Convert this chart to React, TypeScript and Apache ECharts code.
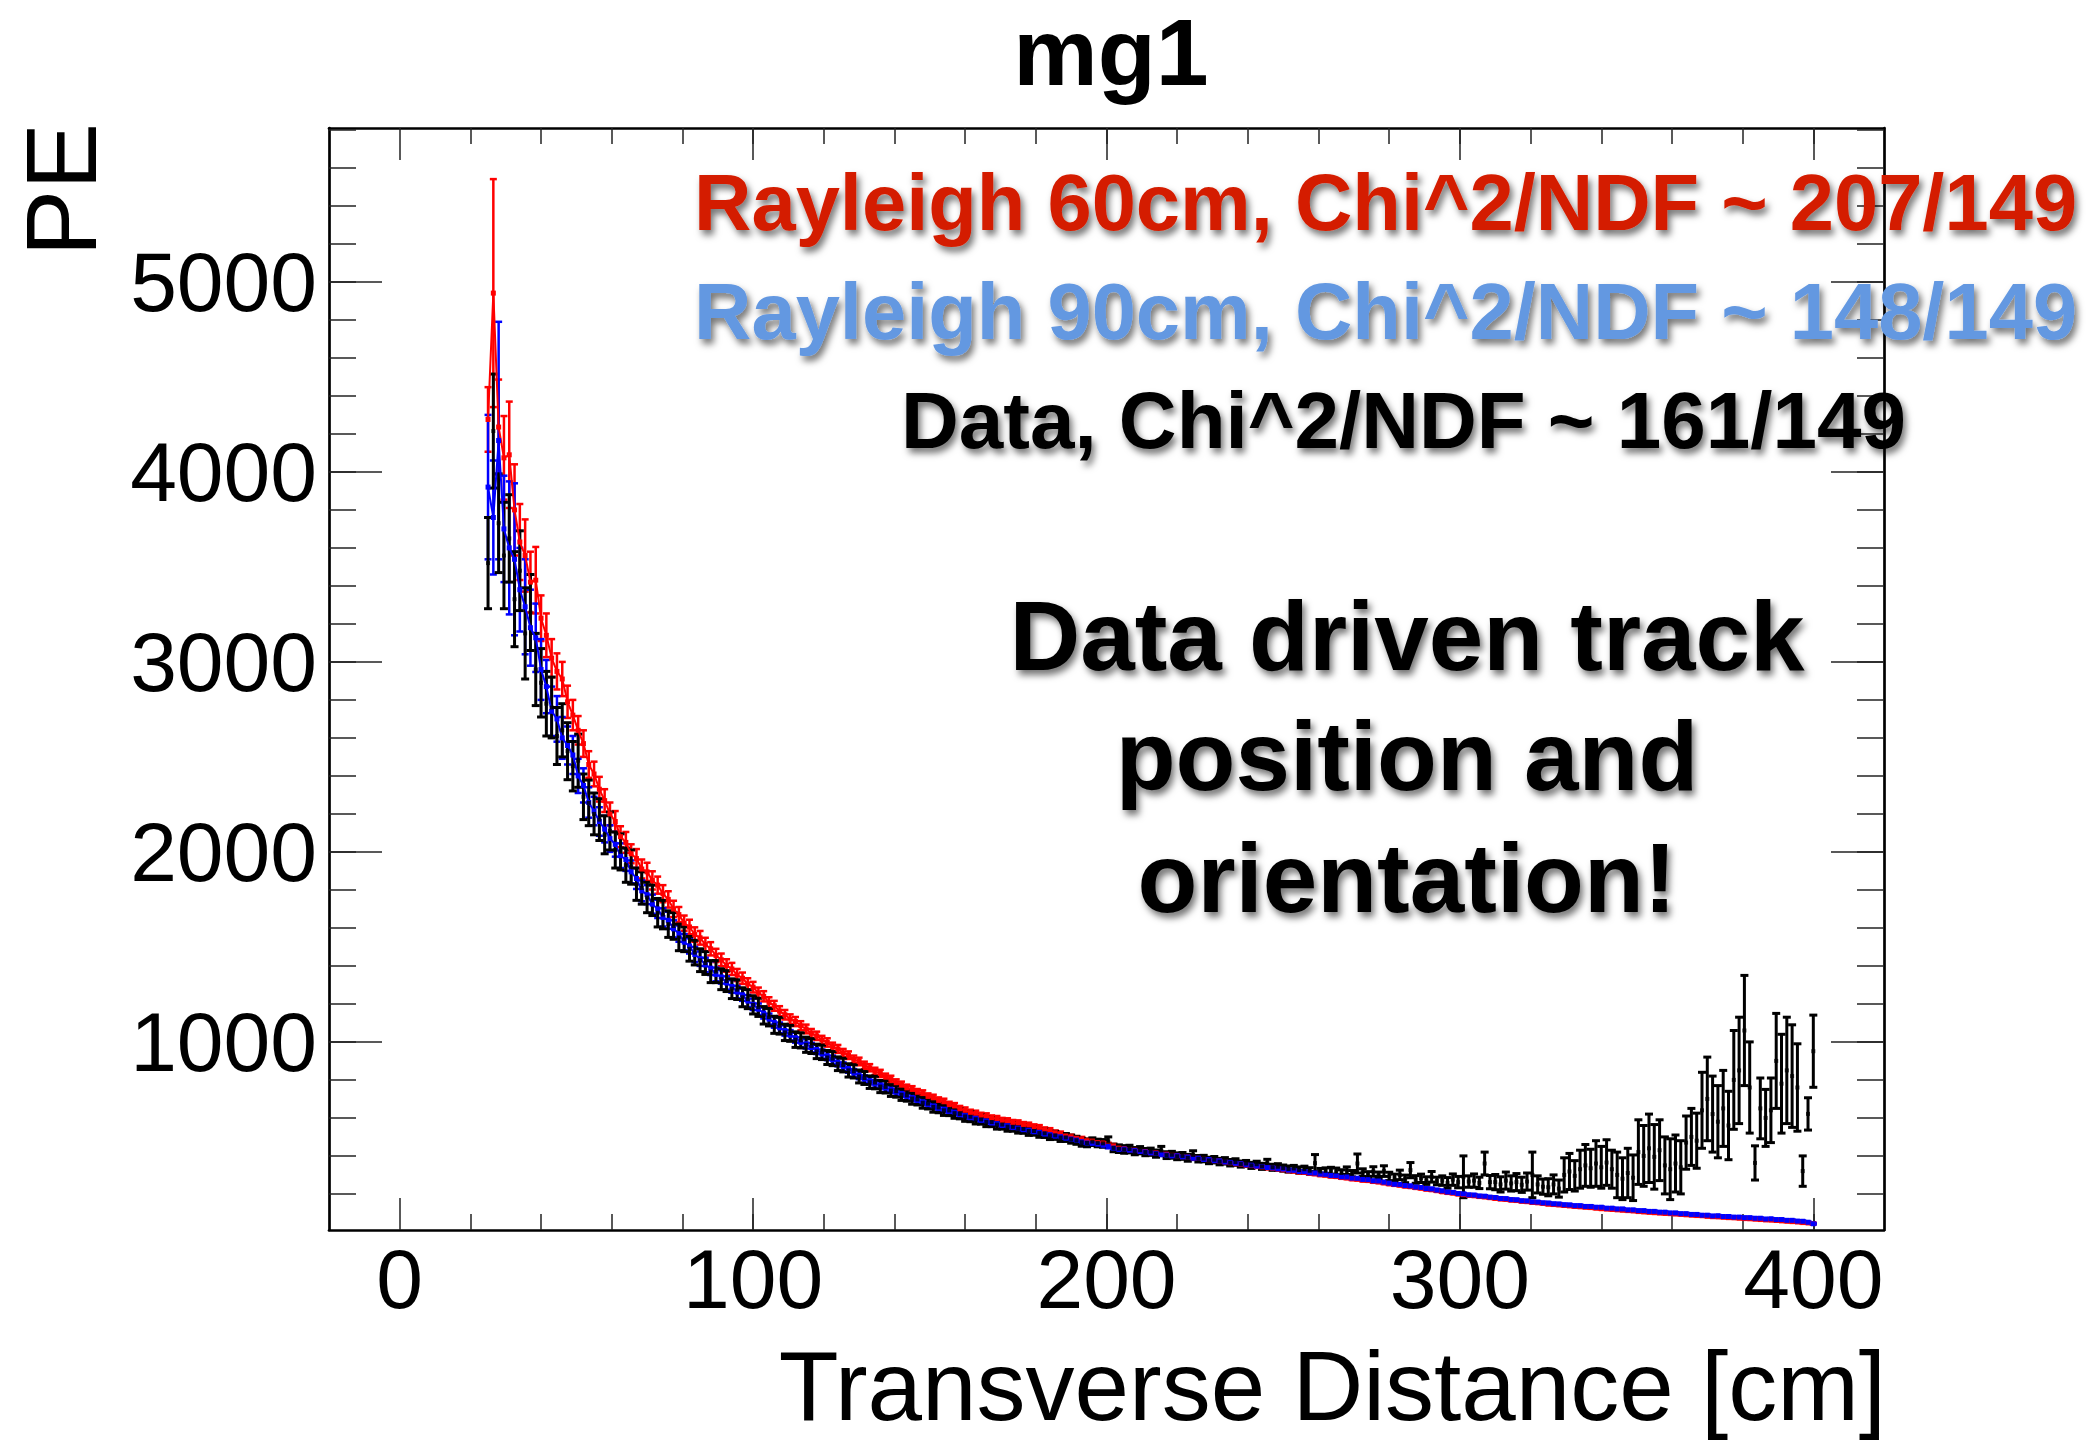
import React, { useEffect, useRef } from 'react';
import * as echarts from 'echarts';

// ---------------- data ----------------
const TITLE = 'mg1';
const X_TITLE = 'Transverse Distance [cm]';
const Y_TITLE = 'PE';
const LEGEND_TEXTS = [
  'Rayleigh 60cm, Chi^2/NDF ~ 207/149',
  'Rayleigh 90cm, Chi^2/NDF ~ 148/149',
  'Data, Chi^2/NDF ~ 161/149',
];
const NOTE_LINES = ['Data driven track', 'position and', 'orientation!'];

const X_MAJOR = [0, 100, 200, 300, 400];
const X_MINOR = [20, 40, 60, 80, 100, 120, 140, 160, 180, 200, 220, 240, 260, 280, 300, 320, 340, 360, 380, 400];
const Y_MAJOR = [1000, 2000, 3000, 4000, 5000];
const Y_MINOR = [200, 400, 600, 800, 1000, 1200, 1400, 1600, 1800, 2000, 2200, 2400, 2600, 2800, 3000, 3200, 3400, 3600, 3800, 4000, 4200, 4400, 4600, 4800, 5000, 5200, 5400, 5600, 5800];

const X = [
  25, 26.5, 28, 29.5, 31, 32.5, 34, 35.5, 37, 38.5,
  40, 41.5, 43, 44.5, 46, 47.5, 49, 50.5, 52, 53.5,
  55, 56.5, 58, 59.5, 61, 62.5, 64, 65.5, 67, 68.5,
  70, 71.5, 73, 74.5, 76, 77.5, 79, 80.5, 82, 83.5,
  85, 86.5, 88, 89.5, 91, 92.5, 94, 95.5, 97, 98.5,
  100, 101.5, 103, 104.5, 106, 107.5, 109, 110.5, 112, 113.5,
  115, 116.5, 118, 119.5, 121, 122.5, 124, 125.5, 127, 128.5,
  130, 131.5, 133, 134.5, 136, 137.5, 139, 140.5, 142, 143.5,
  145, 146.5, 148, 149.5, 151, 152.5, 154, 155.5, 157, 158.5,
  160, 161.5, 163, 164.5, 166, 167.5, 169, 170.5, 172, 173.5,
  175, 176.5, 178, 179.5, 181, 182.5, 184, 185.5, 187, 188.5,
  190, 191.5, 193, 194.5, 196, 197.5, 199, 200.5, 202, 203.5,
  205, 206.5, 208, 209.5, 211, 212.5, 214, 215.5, 217, 218.5,
  220, 221.5, 223, 224.5, 226, 227.5, 229, 230.5, 232, 233.5,
  235, 236.5, 238, 239.5, 241, 242.5, 244, 245.5, 247, 248.5,
  250, 251.5, 253, 254.5, 256, 257.5, 259, 260.5, 262, 263.5,
  265, 266.5, 268, 269.5, 271, 272.5, 274, 275.5, 277, 278.5,
  280, 281.5, 283, 284.5, 286, 287.5, 289, 290.5, 292, 293.5,
  295, 296.5, 298, 299.5, 301, 302.5, 304, 305.5, 307, 308.5,
  310, 311.5, 313, 314.5, 316, 317.5, 319, 320.5, 322, 323.5,
  325, 326.5, 328, 329.5, 331, 332.5, 334, 335.5, 337, 338.5,
  340, 341.5, 343, 344.5, 346, 347.5, 349, 350.5, 352, 353.5,
  355, 356.5, 358, 359.5, 361, 362.5, 364, 365.5, 367, 368.5,
  370, 371.5, 373, 374.5, 376, 377.5, 379, 380.5, 382, 383.5,
  385, 386.5, 388, 389.5, 391, 392.5, 394, 395.5, 397, 398.5,
  400,
];

// Rayleigh 60cm (red)
const R60 = [
  4276, 4941, 4236, 4074, 4090, 3800, 3631, 3560, 3420, 3430,
  3230, 3140, 3020, 2950, 2910, 2790, 2720, 2640, 2570, 2460,
  2410, 2330, 2270, 2200, 2160, 2080, 2050, 1990, 1965, 1910,
  1895, 1850, 1825, 1780, 1750, 1700, 1670, 1625, 1605, 1565,
  1548, 1512, 1490, 1455, 1432, 1402, 1384, 1352, 1335, 1305,
  1288, 1258, 1240, 1208, 1190, 1162, 1143, 1120, 1107, 1085,
  1068, 1045, 1032, 1010, 997, 975, 963, 942, 930, 908,
  897, 876, 864, 845, 834, 815, 804, 785, 774, 758,
  750, 735, 728, 713, 706, 692, 685, 670, 663, 648,
  640, 628, 624, 613, 610, 599, 597, 587, 585, 576,
  574, 565, 563, 554, 550, 538, 534, 522, 517, 505,
  501, 493, 489, 480, 478, 470, 468, 459, 453, 441,
  438, 432, 430, 424, 423, 417, 416, 410, 409, 403,
  401, 396, 394, 389, 387, 382, 380, 375, 373, 368,
  364, 359, 357, 351, 349, 344, 342, 337, 335, 330,
  327, 322, 320, 315, 313, 308, 306, 301, 299, 294,
  291, 286, 284, 279, 277, 272, 270, 265, 263, 258,
  253, 249, 246, 241, 238, 233, 230, 225, 222, 217,
  211, 207, 204, 199, 196, 192, 190, 186, 184, 180,
  176, 173, 171, 167, 165, 161, 159, 155, 153, 150,
  146, 144, 142, 139, 137, 134, 132, 130, 128, 125,
  122, 120, 118, 116, 114, 112, 110, 107, 105, 103,
  101, 99, 97, 96, 94, 92, 90, 88, 86, 85,
  82, 80, 79, 77, 75, 74, 72, 70, 69, 67,
  65, 63, 62, 60, 58, 56, 54, 52, 49, 47,
  44,
];
const R60_ERR = [
  170, 600, 250, 220, 280, 240, 200, 190, 160, 175,
  120, 115, 100, 95, 90, 85, 80, 75, 70, 70,
  65, 65, 60, 60, 55, 55, 55, 50, 50, 50,
  48, 48, 45, 45, 43, 43, 40, 40, 38, 38,
  36, 36, 35, 35, 33, 33, 32, 32, 30, 30,
  28, 28, 27, 27, 26, 26, 25, 25, 24, 24,
  23, 23, 22, 22, 22, 21, 21, 21, 20, 20,
  20, 20, 19, 19, 19, 18, 18, 18, 17, 17,
  17, 17, 17, 16, 16, 16, 16, 15, 15, 15,
  15, 15, 14, 14, 14, 14, 13, 13, 13, 13,
  13, 13, 12, 12, 12, 12, 12, 12, 11, 11,
  11, 11, 11, 11, 11, 10, 10, 10, 10, 10,
  10, 10, 10, 10, 9, 9, 9, 9, 9, 9,
  9, 9, 9, 8, 8, 8, 8, 8, 8, 8,
  8, 8, 8, 8, 7, 7, 7, 7, 7, 7,
  7, 7, 7, 7, 7, 7, 7, 7, 7, 7,
  6, 6, 6, 6, 6, 6, 6, 6, 6, 6,
  6, 6, 6, 6, 6, 6, 6, 6, 6, 6,
  5, 5, 5, 5, 5, 5, 5, 5, 5, 5,
  5, 5, 5, 5, 5, 5, 5, 5, 5, 5,
  5, 5, 5, 5, 5, 5, 5, 5, 5, 5,
  4, 4, 4, 4, 4, 4, 4, 4, 4, 4,
  4, 4, 4, 4, 4, 4, 4, 4, 4, 4,
  4, 4, 4, 4, 4, 4, 4, 4, 4, 4,
  4, 4, 4, 4, 4, 4, 4, 4, 4, 4,
  4,
];

// Rayleigh 90cm (blue)
const R90 = [
  3920, 3760, 4165, 3700, 3600, 3540, 3380, 3290, 3180, 3127,
  2960, 2870, 2740, 2700, 2600, 2560, 2510, 2400, 2350, 2260,
  2215, 2160, 2120, 2070, 2040, 1980, 1960, 1895, 1860, 1795,
  1775, 1725, 1700, 1655, 1640, 1595, 1570, 1525, 1505, 1460,
  1438, 1405, 1388, 1355, 1342, 1310, 1292, 1262, 1248, 1215,
  1198, 1172, 1152, 1120, 1103, 1074, 1060, 1035, 1022, 998,
  990, 970, 960, 936, 927, 905, 893, 870, 860, 836,
  825, 804, 796, 779, 773, 757, 751, 735, 729, 713,
  707, 692, 685, 670, 663, 650, 646, 634, 630, 617,
  612, 601, 598, 587, 584, 573, 570, 560, 559, 549,
  546, 538, 535, 527, 524, 515, 512, 504, 501, 493,
  489, 483, 475, 468, 466, 462, 456, 450, 441, 434,
  436, 430, 428, 423, 421, 416, 413, 408, 405, 400,
  401, 395, 394, 388, 388, 381, 381, 375, 374, 368,
  366, 361, 359, 353, 351, 346, 344, 339, 337, 332,
  331, 325, 324, 318, 317, 311, 310, 304, 303, 297,
  296, 290, 289, 283, 282, 276, 275, 269, 268, 262,
  257, 251, 250, 244, 242, 236, 234, 228, 226, 220,
  216, 210, 208, 202, 200, 195, 194, 189, 188, 183,
  181, 176, 175, 170, 169, 164, 163, 158, 157, 153,
  152, 148, 147, 143, 142, 138, 138, 134, 134, 130,
  130, 125, 125, 121, 121, 116, 116, 112, 112, 108,
  108, 104, 104, 100, 100, 96, 96, 92, 92, 88,
  88, 84, 85, 81, 81, 78, 78, 75, 75, 72,
  72, 68, 69, 65, 65, 61, 61, 57, 56, 51,
  43,
];
const R90_ERR = [
  380, 300, 625, 280, 350, 400, 220, 250, 200, 180,
  160, 140, 130, 120, 110, 100, 100, 90, 90, 80,
  75, 75, 70, 70, 65, 65, 60, 60, 55, 55,
  50, 50, 48, 48, 45, 45, 43, 43, 40, 40,
  38, 38, 36, 36, 35, 35, 33, 33, 32, 32,
  30, 30, 29, 29, 28, 28, 27, 27, 26, 26,
  25, 25, 24, 24, 23, 23, 22, 22, 22, 21,
  21, 20, 20, 20, 19, 19, 19, 18, 18, 18,
  18, 17, 17, 17, 16, 16, 16, 16, 15, 15,
  15, 15, 14, 14, 14, 14, 13, 13, 13, 13,
  13, 13, 12, 12, 12, 12, 12, 11, 11, 11,
  11, 11, 11, 11, 11, 10, 10, 10, 10, 10,
  10, 10, 10, 10, 9, 9, 9, 9, 9, 9,
  9, 9, 9, 9, 8, 8, 8, 8, 8, 8,
  8, 8, 8, 8, 8, 7, 7, 7, 7, 7,
  7, 7, 7, 7, 7, 7, 7, 7, 7, 7,
  6, 6, 6, 6, 6, 6, 6, 6, 6, 6,
  6, 6, 6, 6, 6, 6, 6, 6, 6, 6,
  5, 5, 5, 5, 5, 5, 5, 5, 5, 5,
  5, 5, 5, 5, 5, 5, 5, 5, 5, 5,
  5, 5, 5, 5, 5, 5, 5, 5, 5, 5,
  4, 4, 4, 4, 4, 4, 4, 4, 4, 4,
  4, 4, 4, 4, 4, 4, 4, 4, 4, 4,
  4, 4, 4, 4, 4, 4, 4, 4, 4, 4,
  4, 4, 4, 4, 4, 4, 4, 4, 4, 4,
  4,
];

// Data (black)
const DATA = [
  3520, 4215, 3730, 3560, 3650, 3330, 3480, 3150, 3260, 2960,
  2890, 2780, 2760, 2610, 2640, 2530, 2451, 2480, 2290, 2258,
  2200, 2170, 2090, 2110, 2010, 2000, 1930, 1920, 1830, 1810,
  1760, 1745, 1680, 1670, 1620, 1610, 1550, 1540, 1490, 1470,
  1430, 1415, 1370, 1370, 1330, 1320, 1280, 1275, 1235, 1225,
  1195, 1182, 1140, 1130, 1090, 1085, 1050, 1045, 1012, 1008,
  985, 978, 950, 945, 918, 912, 885, 878, 850, 845,
  818, 810, 788, 786, 765, 763, 744, 740, 722, 718,
  702, 697, 680, 675, 658, 655, 640, 639, 625, 621,
  608, 606, 593, 592, 579, 578, 565, 565, 554, 553,
  543, 542, 531, 531, 520, 519, 508, 508, 497, 497,
  488, 482, 472, 468, 475, 468, 466, 475, 442, 438,
  434, 436, 425, 430, 420, 422, 412, 428, 404, 406,
  398, 400, 390, 405, 385, 386, 376, 380, 370, 374,
  364, 368, 357, 360, 350, 356, 345, 362, 340, 343,
  336, 331, 334, 326, 330, 322, 362, 318, 321, 322,
  318, 310, 322, 306, 360, 312, 300, 318, 298, 320,
  292, 284, 300, 279, 325, 276, 282, 270, 290, 268,
  270, 258, 275, 262, 290, 265, 270, 258, 360, 262,
  262, 250, 270, 255, 262, 248, 265, 300, 250, 238,
  235, 250, 228, 300, 318, 295, 330, 350, 335, 360,
  340, 365, 330, 300, 280, 310, 285, 420, 400, 440,
  395, 430, 350, 330, 360, 340, 470, 500, 480, 640,
  700, 620, 580, 650, 560, 800, 850, 1060, 760, 363,
  650, 600, 640, 900, 780, 850, 820, 760, 320, 621,
  951,
];
const DATA_ERR = [
  240, 300, 260, 280, 230, 250, 210, 240, 200, 190,
  180, 170, 160, 150, 140, 150, 130, 140, 120, 120,
  110, 110, 100, 100, 95, 95, 90, 90, 85, 85,
  80, 80, 75, 75, 70, 70, 70, 65, 65, 65,
  60, 60, 58, 58, 55, 55, 52, 52, 50, 50,
  48, 48, 46, 46, 45, 44, 43, 42, 41, 40,
  40, 39, 38, 38, 37, 37, 36, 36, 35, 35,
  34, 34, 33, 33, 32, 32, 31, 31, 30, 30,
  30, 29, 29, 28, 28, 28, 27, 27, 27, 26,
  26, 26, 25, 25, 25, 24, 24, 24, 24, 23,
  23, 23, 23, 22, 22, 22, 22, 21, 21, 21,
  21, 21, 21, 20, 20, 20, 20, 25, 20, 20,
  20, 20, 19, 19, 19, 19, 19, 22, 18, 18,
  18, 18, 18, 22, 17, 17, 17, 17, 17, 17,
  17, 17, 16, 16, 16, 16, 16, 20, 16, 16,
  16, 16, 16, 16, 16, 16, 45, 16, 16, 18,
  18, 17, 20, 17, 50, 20, 17, 25, 17, 28,
  22, 20, 25, 20, 40, 20, 22, 20, 28, 20,
  25, 28, 30, 30, 110, 30, 35, 30, 60, 35,
  40, 40, 45, 40, 45, 40, 45, 120, 45, 40,
  45, 50, 45, 90, 95, 80, 100, 110, 100, 120,
  110, 120, 100, 120, 110, 130, 120, 170, 160, 180,
  170, 160, 150, 160, 150, 140, 140, 150, 145, 200,
  220, 200, 190, 200, 180, 260, 280, 290, 240, 90,
  160, 150, 170, 250, 260, 280, 270, 230, 80, 85,
  190,
];

// ---------------- styling ----------------
const FONT = '"Liberation Sans", Arial, Helvetica, sans-serif';
const RED = '#ff0000';
const BLUE = '#0000ff';
const BLACK = '#000000';
const LEGEND_COLORS = ['#d41e00', '#6498e1', '#000000'];

function errorBarSeries(name: string, ys: number[], errs: number[], color: string, width: number, hw: number) {
  return {
    type: 'custom',
    name,
    silent: true,
    xAxisIndex: 0,
    yAxisIndex: 0,
    data: X.map((x, i) => [x, ys[i] - errs[i], ys[i] + errs[i]]),
    encode: { x: 0, y: [1, 2] },
    renderItem: (params: any, api: any) => {
      const x = api.value(0);
      const a = api.coord([x, api.value(1)]);
      const b = api.coord([x, api.value(2)]);
      const st = { stroke: color, lineWidth: width, fill: null };
      return {
        type: 'group',
        children: [
          { type: 'line', shape: { x1: a[0], y1: a[1], x2: b[0], y2: b[1] }, style: st },
          { type: 'line', shape: { x1: a[0] - hw, y1: a[1], x2: a[0] + hw, y2: a[1] }, style: st },
          { type: 'line', shape: { x1: b[0] - hw, y1: b[1], x2: b[0] + hw, y2: b[1] }, style: st },
        ],
      };
    },
    z: 2,
  };
}

export default function App() {
  const ref = useRef<HTMLDivElement>(null);
  useEffect(() => {
    const chart = echarts.init(ref.current as HTMLDivElement, null, { renderer: 'svg' });
    const tickStyle = { color: '#222', width: 1.5 };
    const frameStyle = { color: '#000', width: 2.7 };
    const xBase = { type: 'value', min: -20, max: 420, gridIndex: 0, splitLine: { show: false }, minorTick: { show: false } };
    const yBase = { type: 'value', min: 10, max: 5810, gridIndex: 0, splitLine: { show: false }, minorTick: { show: false } };
    const labelStyle = { color: '#000', fontSize: 84, fontFamily: FONT, formatter: (v: number) => String(v) };
    const shadow = {
      textShadowColor: 'rgba(0,0,0,0.55)',
      textShadowBlur: 7,
      textShadowOffsetX: 3,
      textShadowOffsetY: 5,
    };

    const option: any = {
      animation: false,
      backgroundColor: '#ffffff',
      grid: { left: 329, top: 128, width: 1555, height: 1102, containLabel: false, outerBoundsMode: 'none' },
      xAxis: [
        { ...xBase, position: 'bottom',
          axisLine: { show: true, onZero: false, lineStyle: frameStyle },
          axisTick: { show: true, inside: true, length: 32, customValues: X_MAJOR, lineStyle: tickStyle },
          axisLabel: { show: true, customValues: X_MAJOR, margin: 7, ...labelStyle } },
        { ...xBase, position: 'bottom',
          axisLine: { show: false, onZero: false },
          axisTick: { show: true, inside: true, length: 16, customValues: X_MINOR, lineStyle: tickStyle },
          axisLabel: { show: false } },
        { ...xBase, position: 'top',
          axisLine: { show: true, onZero: false, lineStyle: frameStyle },
          axisTick: { show: true, inside: true, length: 32, customValues: X_MAJOR, lineStyle: tickStyle },
          axisLabel: { show: false } },
        { ...xBase, position: 'top',
          axisLine: { show: false, onZero: false },
          axisTick: { show: true, inside: true, length: 16, customValues: X_MINOR, lineStyle: tickStyle },
          axisLabel: { show: false } },
      ],
      yAxis: [
        { ...yBase, position: 'left',
          axisLine: { show: true, onZero: false, lineStyle: frameStyle },
          axisTick: { show: true, inside: true, length: 53, customValues: Y_MAJOR, lineStyle: tickStyle },
          axisLabel: { show: true, customValues: Y_MAJOR, margin: 12, ...labelStyle } },
        { ...yBase, position: 'left',
          axisLine: { show: false, onZero: false },
          axisTick: { show: true, inside: true, length: 27, customValues: Y_MINOR, lineStyle: tickStyle },
          axisLabel: { show: false } },
        { ...yBase, position: 'right',
          axisLine: { show: true, onZero: false, lineStyle: frameStyle },
          axisTick: { show: true, inside: true, length: 53, customValues: Y_MAJOR, lineStyle: tickStyle },
          axisLabel: { show: false } },
        { ...yBase, position: 'right',
          axisLine: { show: false, onZero: false },
          axisTick: { show: true, inside: true, length: 27, customValues: Y_MINOR, lineStyle: tickStyle },
          axisLabel: { show: false } },
      ],
      series: [
        errorBarSeries('Rayleigh 60cm err', R60, R60_ERR, RED, 2.5, 3.5),
        {
          type: 'line', name: 'Rayleigh 60cm', xAxisIndex: 0, yAxisIndex: 0,
          data: X.map((x, i) => [x, R60[i]]),
          symbol: 'rect', symbolSize: 5, showSymbol: true,
          itemStyle: { color: RED }, lineStyle: { color: RED, width: 2 }, z: 3, silent: true,
        },
        errorBarSeries('Rayleigh 90cm err', R90, R90_ERR, BLUE, 2.5, 3.5),
        {
          type: 'line', name: 'Rayleigh 90cm', xAxisIndex: 0, yAxisIndex: 0,
          data: X.map((x, i) => [x, R90[i]]),
          symbol: 'rect', symbolSize: 5, showSymbol: true,
          itemStyle: { color: BLUE }, lineStyle: { color: BLUE, width: 2 }, z: 3, silent: true,
        },
        errorBarSeries('Data err', DATA, DATA_ERR, BLACK, 3, 4),
        {
          type: 'scatter', name: 'Data', xAxisIndex: 0, yAxisIndex: 0,
          data: X.map((x, i) => [x, DATA[i]]),
          symbol: 'rect', symbolSize: 4,
          itemStyle: { color: BLACK }, z: 3, silent: true,
        },
      ],
      graphic: [
        { type: 'text', x: 1111, y: 52, z: 100,
          style: { text: TITLE, fill: '#000', fontSize: 95, lineHeight: 95, fontWeight: 'bold', fontFamily: FONT, align: 'center', verticalAlign: 'middle' } },
        { type: 'text', x: 1886, y: 1386, z: 100,
          style: { text: X_TITLE, fill: '#000', fontSize: 98, fontFamily: FONT, align: 'right', verticalAlign: 'middle' } },
        { type: 'text', x: 61, y: 123, rotation: Math.PI / 2, z: 100,
          style: { text: Y_TITLE, fill: '#000', fontSize: 100, fontFamily: FONT, align: 'right', verticalAlign: 'middle' } },
        { type: 'text', x: 694, y: 202, z: 100,
          style: { text: LEGEND_TEXTS[0], fill: LEGEND_COLORS[0], fontSize: 79.5, fontWeight: 'bold', fontFamily: FONT, align: 'left', verticalAlign: 'middle', ...shadow } },
        { type: 'text', x: 694, y: 311, z: 100,
          style: { text: LEGEND_TEXTS[1], fill: LEGEND_COLORS[1], fontSize: 79.5, fontWeight: 'bold', fontFamily: FONT, align: 'left', verticalAlign: 'middle', ...shadow } },
        { type: 'text', x: 901, y: 420, z: 100,
          style: { text: LEGEND_TEXTS[2], fill: LEGEND_COLORS[2], fontSize: 80, fontWeight: 'bold', fontFamily: FONT, align: 'left', verticalAlign: 'middle', ...shadow } },
        { type: 'text', x: 1407, y: 636, z: 100,
          style: { text: NOTE_LINES[0], fill: '#000', fontSize: 98, fontWeight: 'bold', fontFamily: FONT, align: 'center', verticalAlign: 'middle', ...shadow } },
        { type: 'text', x: 1407, y: 756, z: 100,
          style: { text: NOTE_LINES[1], fill: '#000', fontSize: 98, fontWeight: 'bold', fontFamily: FONT, align: 'center', verticalAlign: 'middle', ...shadow } },
        { type: 'text', x: 1407, y: 878, z: 100,
          style: { text: NOTE_LINES[2], fill: '#000', fontSize: 98, fontWeight: 'bold', fontFamily: FONT, align: 'center', verticalAlign: 'middle', ...shadow } },
      ],
    };
    chart.setOption(option);
    return () => chart.dispose();
  }, []);
  return (
    <div
      ref={ref}
      style={{ position: 'absolute', left: 0, top: 0, width: 2091, height: 1441, background: '#fff' }}
    />
  );
}
